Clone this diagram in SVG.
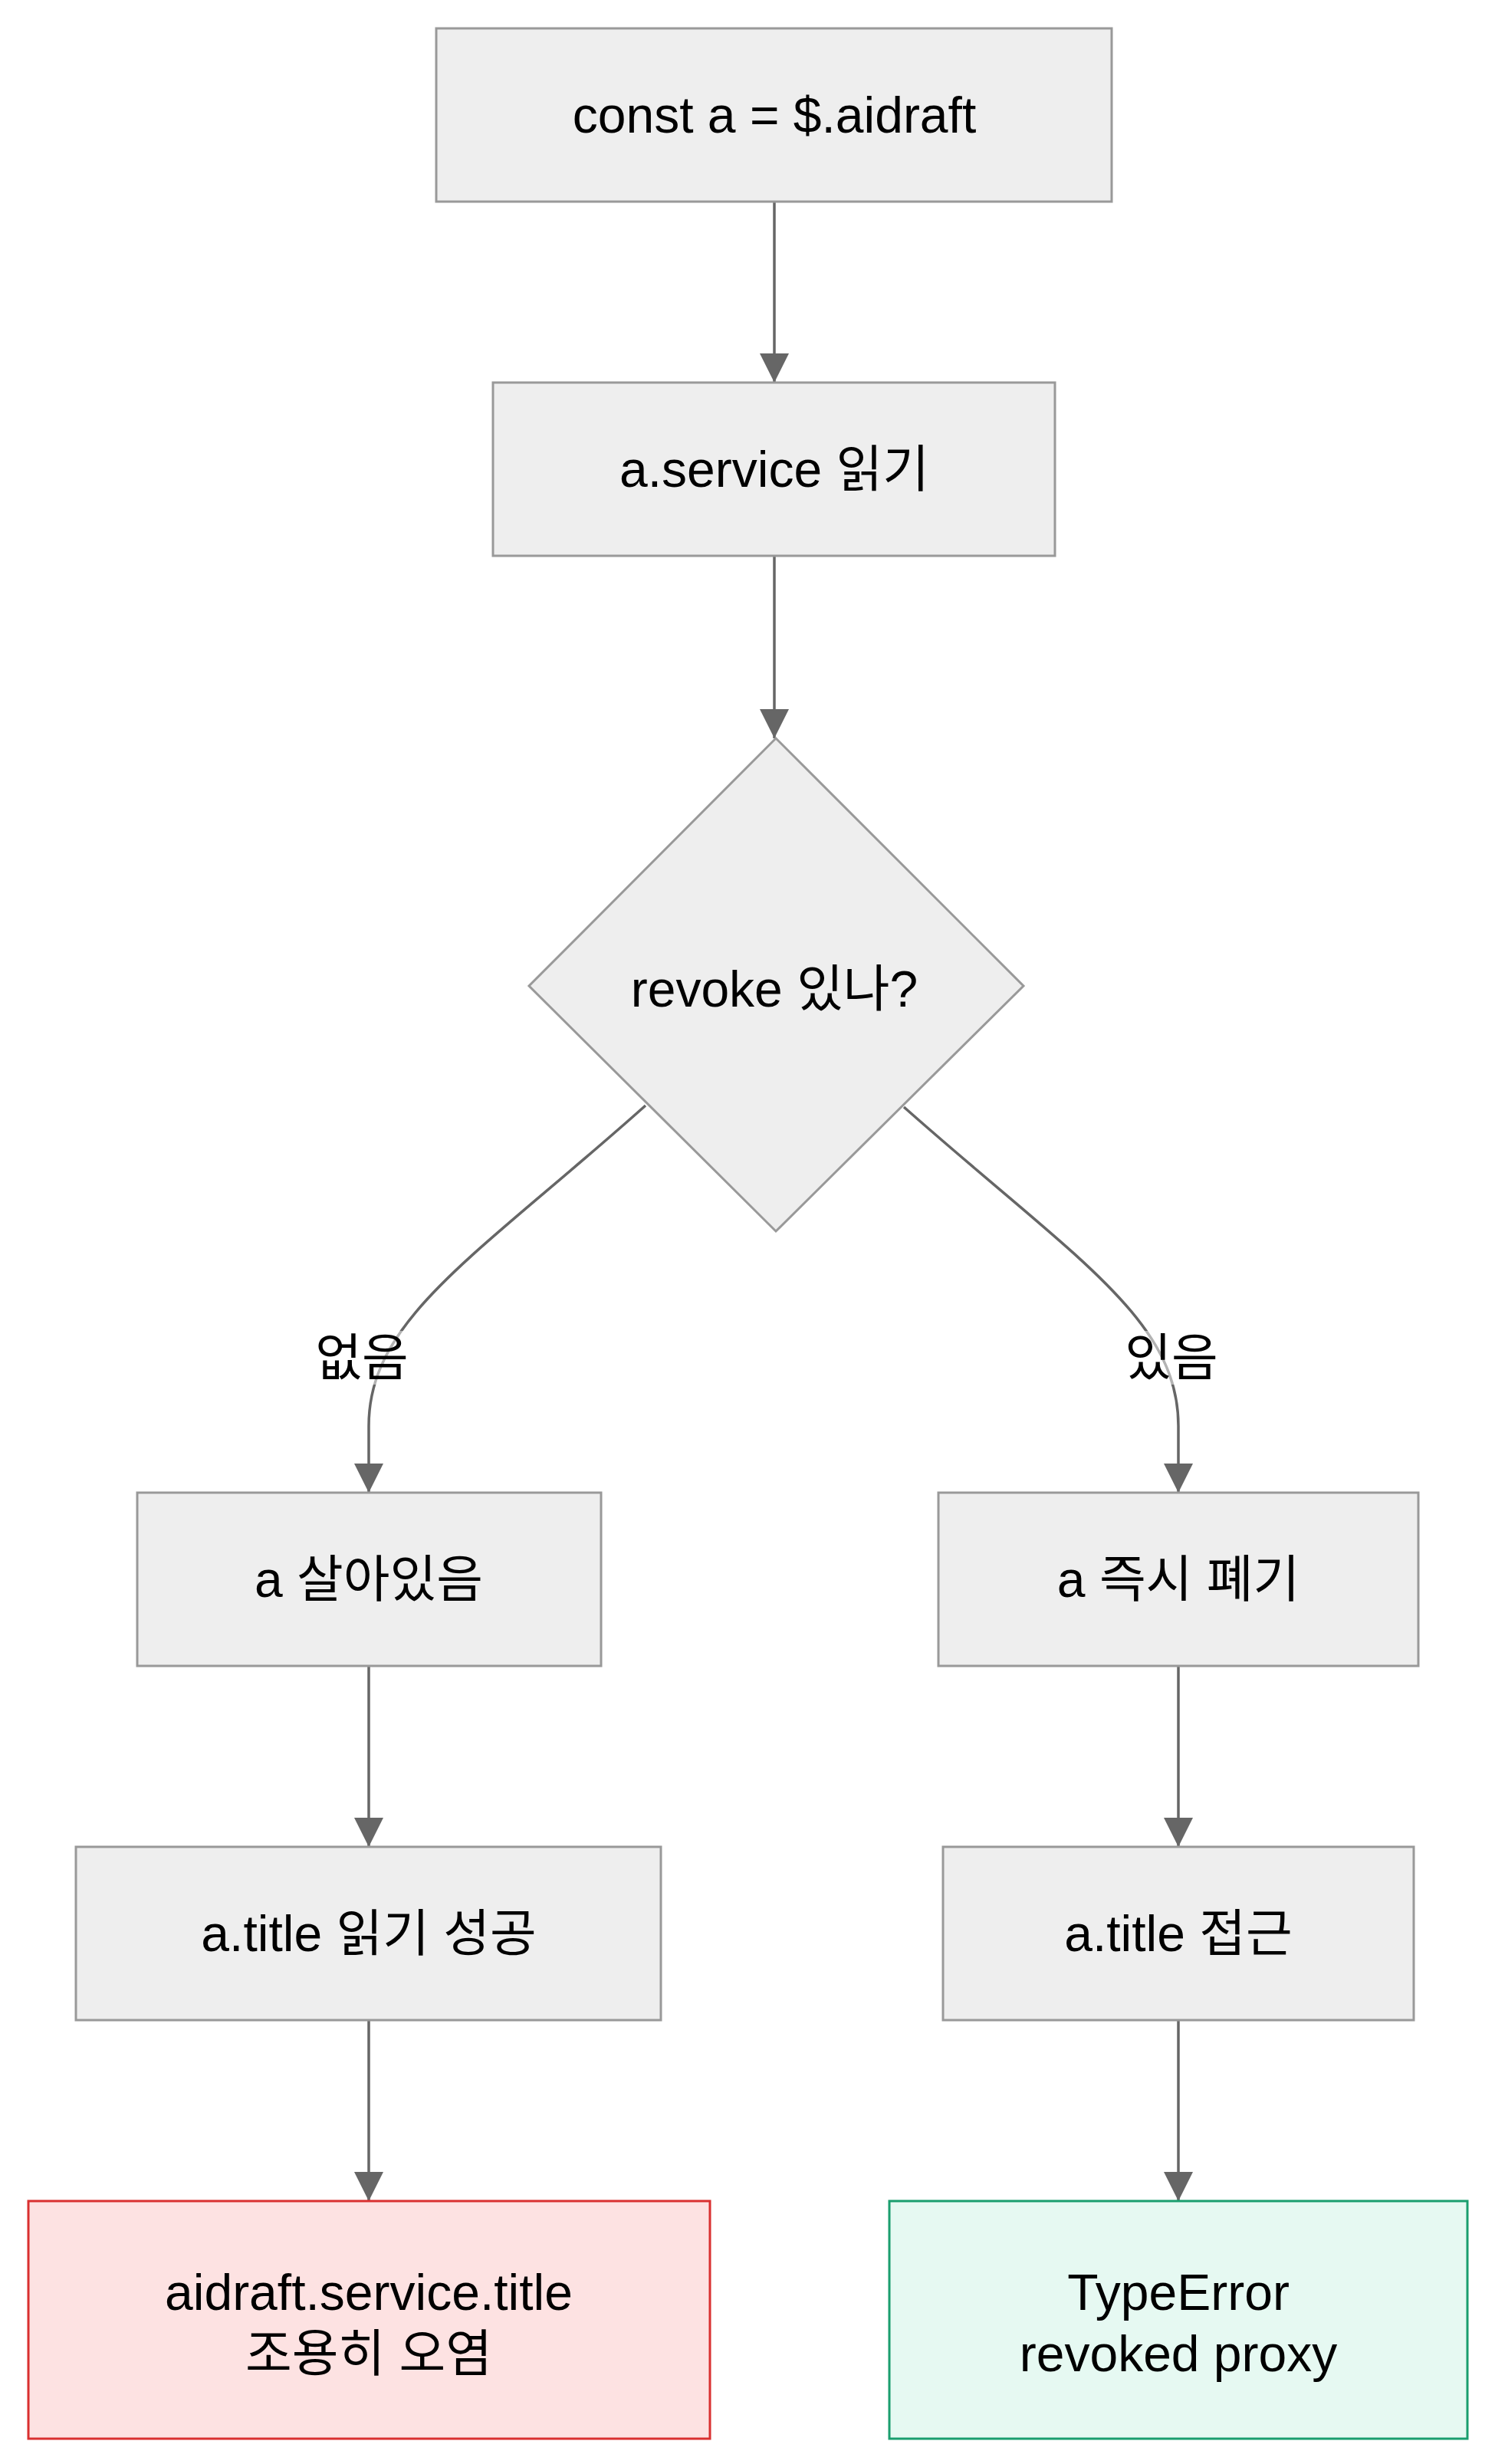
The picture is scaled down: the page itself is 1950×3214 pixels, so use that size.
<svg xmlns="http://www.w3.org/2000/svg" width="1950" height="3214" viewBox="0 0 1950 3214">
<defs>
<marker id="arr" markerUnits="userSpaceOnUse" markerWidth="40" markerHeight="40" viewBox="0 0 40 40" refX="38" refY="20" orient="auto"><path d="M0,1 L38,20 L0,39 Z" fill="#666"/></marker>
</defs>
<style>
.n{fill:#eeeeee;stroke:#999;stroke-width:3}
.t{font-family:"Liberation Sans","Noto Sans CJK KR",sans-serif;font-size:66px;fill:#000;text-anchor:middle;dominant-baseline:central}
.e{fill:none;stroke:#666;stroke-width:3.5;marker-end:url(#arr)}
</style>
<rect width="1950" height="3214" fill="#fff"/>
<g id="connectors">
<path class="e" d="M1010,263 L1010,499"/>
<path class="e" d="M1010,725 L1010,963"/>
<path class="e" d="M842,1442 C620,1640 481,1720 481,1860 L481,1947"/>
<path class="e" d="M1179,1444 C1400,1640 1537,1720 1537,1860 L1537,1947"/>
<path class="e" d="M481,2173 L481,2409"/>
<path class="e" d="M1537,2173 L1537,2409"/>
<path class="e" d="M481,2635 L481,2871"/>
<path class="e" d="M1537,2635 L1537,2871"/>
<rect x="410" y="1736" width="124" height="70" fill="#fff" opacity="0.5"/>
<text class="t" x="472" y="1771">없음</text>
<rect x="1466" y="1736" width="124" height="70" fill="#fff" opacity="0.5"/>
<text class="t" x="1528" y="1771">있음</text>
</g>
<g id="n1"><rect class="n" x="569" y="37" width="881" height="226"/><text class="t" x="1010" y="150">const a = $.aidraft</text></g>
<g id="n2"><rect class="n" x="643" y="499" width="733" height="226"/><text class="t" x="1010" y="612">a.service 읽기</text></g>
<g id="n3"><polygon class="n" points="1012,963 1335,1286 1012,1606 690,1286"/><text class="t" x="1010" y="1290">revoke 있나?</text></g>
<g id="n4"><rect class="n" x="179" y="1947" width="605" height="226"/><text class="t" x="481" y="2060">a 살아있음</text></g>
<g id="n5"><rect class="n" x="1224" y="1947" width="626" height="226"/><text class="t" x="1537" y="2060">a 즉시 폐기</text></g>
<g id="n6"><rect class="n" x="99" y="2409" width="763" height="226"/><text class="t" x="481" y="2522">a.title 읽기 성공</text></g>
<g id="n7"><rect class="n" x="1230" y="2409" width="614" height="226"/><text class="t" x="1537" y="2522">a.title 접근</text></g>
<g id="n8"><rect x="37" y="2871" width="889" height="310" fill="#fde2e2" stroke="#d93030" stroke-width="3"/><text class="t" x="481" y="2990">aidraft.service.title</text><text class="t" x="481" y="3070">조용히 오염</text></g>
<g id="n9"><rect x="1160" y="2871" width="754" height="310" fill="#e6f9f2" stroke="#1a9e6e" stroke-width="3"/><text class="t" x="1537" y="2990">TypeError</text><text class="t" x="1537" y="3070">revoked proxy</text></g>
</svg>
